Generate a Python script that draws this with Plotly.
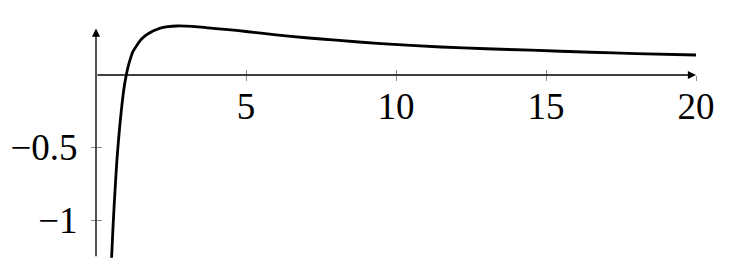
import plotly.graph_objects as go

# values
x_vals = [0.52, 0.56, 0.60, 0.65, 0.70, 0.75, 0.80, 0.86, 0.93, 1.01, 1.07, 1.15, 1.23, 1.37, 1.51,
          1.68, 1.90, 2.12, 2.40, 2.70, 3.00, 3.40, 3.90, 4.50, 5.00, 6.00, 7.00, 8.00, 9.50,
          11.5, 13.0, 14.5, 16.5, 18.0, 20.0]
y_vals = [-1.26, -1.08, -0.92, -0.74, -0.58, -0.45, -0.335, -0.215, -0.095, 0.0, 0.057, 0.115, 0.161, 0.207, 0.246,
          0.276, 0.303, 0.322, 0.333, 0.338, 0.337, 0.332, 0.322, 0.311, 0.300, 0.277, 0.257, 0.240, 0.216,
          0.193, 0.181, 0.171, 0.157, 0.148, 0.138]

x_ticks = [5, 10, 15, 20]
x_tick_text = ["5", "10", "15", "20"]
y_ticks = [-1, -0.5]
y_tick_text = ["\u22121", "\u22120.5"]

x_range = [0, 20]
y_range = [-1.3448, 0.4483]
y_axis_span = [-1.26, 0.32]

W, H = 745, 274
font = dict(family="Liberation Serif", size=37, color="black")

fig = go.Figure()
fig.add_trace(go.Scatter(x=x_vals, y=y_vals, mode="lines", line=dict(color="black", width=2.8, shape="spline", smoothing=0.5),
                         showlegend=False, hoverinfo="skip"))
# invisible trace on overlay axes so they render
fig.add_trace(go.Scatter(x=[x_range[0]], y=[0], xaxis="x2", yaxis="y2", mode="markers", marker=dict(opacity=0), showlegend=False, hoverinfo="skip"))

tick_col = "#8c8c8c"
common = dict(showgrid=False, zeroline=False, showline=False, automargin=False,
              ticklen=5, tickwidth=1, tickcolor=tick_col)
fig.update_layout(
    width=W, height=H,
    margin=dict(l=96, r=49, t=10, b=4),
    paper_bgcolor="white", plot_bgcolor="white",
    xaxis=dict(range=x_range, anchor="free", position=0.75, tickvals=x_ticks, ticktext=x_tick_text,
               ticks="outside", tickfont=font, ticklabelstandoff=-6, **common),
    yaxis=dict(range=y_range, anchor="free", position=0, tickvals=y_ticks, ticktext=y_tick_text,
               ticks="outside", tickfont=font, ticklabelstandoff=6, **common),
    xaxis2=dict(range=x_range, overlaying="x", anchor="free", position=0.75, tickvals=x_ticks,
                ticks="inside", showticklabels=False, **common),
    yaxis2=dict(range=y_range, overlaying="y", anchor="free", position=0, tickvals=y_ticks,
                ticks="inside", showticklabels=False, **common),
    annotations=[
        dict(x=x_range[1], y=0, ax=x_range[0], ay=0, xref="x", yref="y", axref="x", ayref="y", text="",
             showarrow=True, arrowhead=2, arrowsize=1.2, arrowwidth=1.35, arrowcolor="black"),
        dict(x=0, y=y_axis_span[1], ax=0, ay=y_axis_span[0], xref="x", yref="y", axref="x", ayref="y", text="",
             showarrow=True, arrowhead=2, arrowsize=1.2, arrowwidth=1.35, arrowcolor="black"),
    ],
)
fig.write_html("out.html")
